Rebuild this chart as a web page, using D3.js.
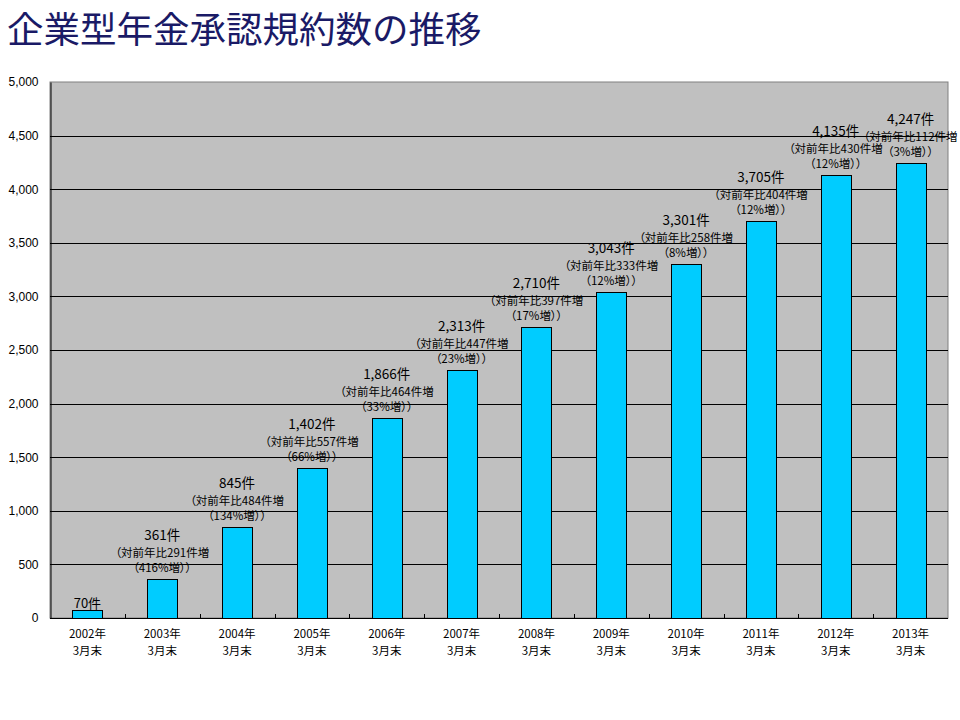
<!DOCTYPE html>
<html><head><meta charset="utf-8">
<script src="https://cdn.jsdelivr.net/npm/d3@7"></script>
<style>
html,body{margin:0;padding:0;background:#fff;}
svg{display:block;font-family:"Noto Sans CJK JP","Noto Sans",sans-serif;}
.lbl{font-feature-settings:"palt";}
</style></head>
<body><svg id="c" width="960" height="720"></svg>
<script>
const title = "企業型年金承認規約数の推移";
const years = ["2002年","2003年","2004年","2005年","2006年","2007年","2008年","2009年","2010年","2011年","2012年","2013年"];
const monthLabel = "3月末";
const values = [70,361,845,1402,1866,2313,2710,3043,3301,3705,4135,4247];
const increases = [null,291,484,557,464,447,397,333,258,404,430,112];
const pcts = [null,416,134,66,33,23,17,12,8,12,12,3];
const yTicks = [0,500,1000,1500,2000,2500,3000,3500,4000,4500,5000];

const svg = d3.select("#c");
const L=50, R=948, T=82, B=618;

svg.append("text").attr("x",7).attr("y",43).attr("font-size",36.5)
  .attr("fill","#1a1a66").text(title);

const x = d3.scaleBand().domain(years).range([L,R]).paddingInner(0.6).paddingOuter(0.3);
const xb = d3.scaleBand().domain(years).range([L,R]);
const y = d3.scaleLinear().domain([0,5000]).range([B,T]);

svg.append("rect").attr("x",L).attr("y",T).attr("width",R-L).attr("height",B-T)
  .attr("fill","#c0c0c0").attr("stroke","#808080").attr("stroke-width",1);

// gridlines
svg.append("g").selectAll("line").data(yTicks.filter(d=>d>0&&d<5000)).join("line")
  .attr("x1",L).attr("x2",R).attr("y1",d=>Math.round(y(d))+0.5).attr("y2",d=>Math.round(y(d))+0.5)
  .attr("stroke","#000").attr("stroke-width",1);

// y axis
const yAxis = d3.axisLeft(y).tickValues(yTicks).tickSize(0).tickPadding(12).tickFormat(d3.format(","));
const gy = svg.append("g").attr("transform",`translate(${L+0.5},0)`).call(yAxis);
gy.select(".domain").attr("stroke","#000");
gy.selectAll("text").attr("font-size",12).attr("fill","#000").attr("font-family","Liberation Sans, Arial, sans-serif");

// bars
svg.append("g").selectAll("rect").data(values).join("rect")
  .attr("x",(d,i)=>Math.round(x(years[i]))+0.5).attr("width",Math.round(x.bandwidth()))
  .attr("y",d=>Math.round(y(d))+0.5).attr("height",d=>Math.round(B-y(d)))
  .attr("fill","#00ccff").attr("stroke","#000").attr("stroke-width",1);

// x axis
svg.append("line").attr("x1",L).attr("x2",R).attr("y1",B+0.5).attr("y2",B+0.5).attr("stroke","#000");
svg.append("g").selectAll("line").data(years.slice(1)).join("line")
  .attr("x1",d=>Math.round(xb(d))+0.5).attr("x2",d=>Math.round(xb(d))+0.5)
  .attr("y1",B).attr("y2",B-4).attr("stroke","#000");
const xl = svg.append("g").attr("font-size",11.5).attr("fill","#000").attr("text-anchor","middle");
xl.selectAll("text.y1").data(years).join("text").attr("class","y1")
  .attr("x",d=>xb(d)+xb.bandwidth()/2).attr("y",638).text(d=>d);
xl.selectAll("text.y2").data(years).join("text").attr("class","y2")
  .attr("x",d=>xb(d)+xb.bandwidth()/2).attr("y",655).text(monthLabel);

// data labels
const lg = svg.append("g").attr("class","lbl").attr("text-anchor","middle").attr("fill","#000");
values.forEach((v,i)=>{
  const cx = x(years[i])+x.bandwidth()/2;
  const top = y(v);
  if(increases[i]===null){
    lg.append("text").attr("x",cx).attr("y",top-2).attr("font-size",13).text(d3.format(",")(v)+"件");
    return;
  }
  lg.append("text").attr("x",cx).attr("y",top-39).attr("font-size",13.5).text(d3.format(",")(v)+"件");
  lg.append("text").attr("x",cx).attr("y",top-22).attr("font-size",11.5).text("（対前年比"+increases[i]+"件増");
  lg.append("text").attr("x",cx).attr("y",top-7).attr("font-size",11.5).text("（"+pcts[i]+"%増））");
});
</script></body></html>
